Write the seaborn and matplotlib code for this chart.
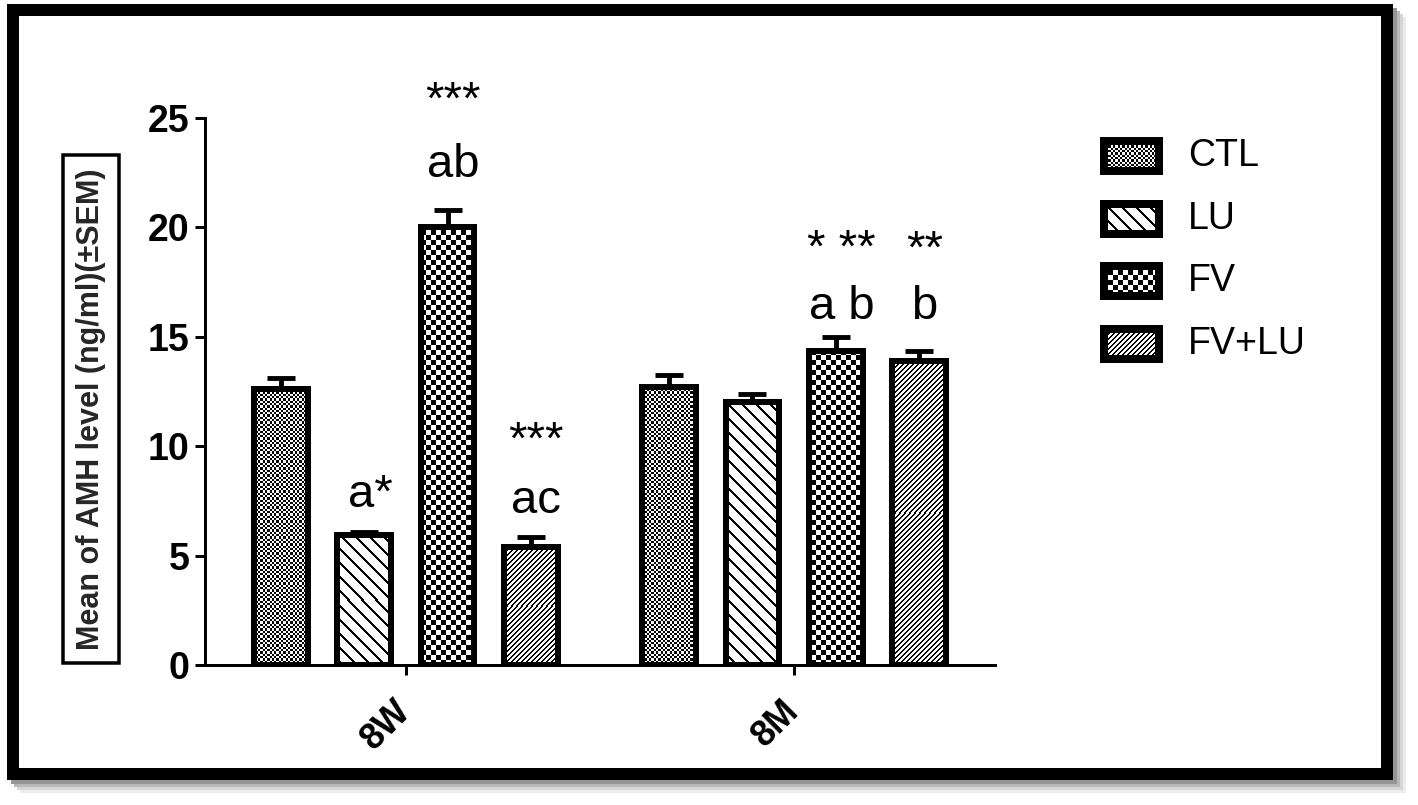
import numpy as np
import pandas as pd
import matplotlib
matplotlib.use("Agg")
import matplotlib.pyplot as plt
from matplotlib.patches import Rectangle
import seaborn as sns

# data
times = ["8W", "8M"]
groups = ["CTL", "LU", "FV", "FV+LU"]
amh_8w = [12.6, 5.95, 20.0, 5.4]
amh_8m = [12.7, 12.0, 14.35, 13.9]
sem_8w = [0.5, 0.15, 0.8, 0.45]
sem_8m = [0.55, 0.4, 0.65, 0.45]
letters_8w = ["", "a*", "ab", "ac"]
letters_8m = ["", "", "a b", "b"]
stars_8w = ["", "", "***", "***"]
stars_8m = ["", "", "* **", "**"]
yticks = [0, 5, 10, 15, 20, 25]

# where the annotations sit (baseline, in data units)
letter_y = {"8W": [0, 7.2, 22.3, 6.95], "8M": [0, 0, 15.8, 15.8]}
star_y = {"8W": [0, 0, 25.2, 9.65], "8M": [0, 0, 18.4, 18.4]}

patterns = ["fine_checker", "back_diag", "coarse_checker", "fwd_diag"]

W, H, DPI = 1418, 805, 100


def make_pattern(kind, w, h, ox=0, oy=0):
    yy, xx = np.mgrid[0:h, 0:w]
    xx = xx + ox
    yy = yy + oy
    if kind == "fine_checker":
        c = 2.3
        black = ((xx // c + yy // c) % 2) == 0
    elif kind == "coarse_checker":
        c = 5.0
        black = ((xx // c + yy // c) % 2) == 0
    elif kind == "back_diag":
        black = ((xx - yy) % 14) < 3
    else:
        black = ((xx + yy) % 5) < 1.7
    return np.where(black, 0.0, 1.0)


sns.set_theme(style="ticks")
plt.rcParams["font.family"] = ["Liberation Sans", "DejaVu Sans"]

df = pd.DataFrame({
    "time": [t for t in times for _ in groups],
    "group": groups * len(times),
    "amh": amh_8w + amh_8m,
})
sems = {"8W": sem_8w, "8M": sem_8m}
letters = {"8W": letters_8w, "8M": letters_8m}
stars = {"8W": stars_8w, "8M": stars_8m}

fig = plt.figure(figsize=(W / DPI, H / DPI), dpi=DPI, facecolor="white")

# overlay in pixel coords for the frame and legend
bg = fig.add_axes([0, 0, 1, 1], zorder=0)
bg.set_xlim(0, W)
bg.set_ylim(H, 0)
bg.axis("off")
for off, col in [(13, "#ececec"), (10, "#d6d6d6"), (7, "#b8b8b8"), (4, "#959595")]:
    bg.add_patch(Rectangle((7 + off, 4 + off), 1386, 776, fc=col, ec="none"))
bg.add_patch(Rectangle((13, 10), 1374, 764, fc="white", ec="black", lw=12 * 72 / DPI))

ax = fig.add_axes([205 / W, 1 - 665 / H, (995 - 205) / W, (665 - 118) / H], zorder=1)
ax.patch.set_alpha(0)

sns.barplot(data=df, x="time", y="amh", hue="group", order=times, hue_order=groups,
            palette=["white"] * 4, width=0.856, gap=0.35, errorbar=None,
            edgecolor="black", linewidth=6 * 72 / DPI, legend=False, ax=ax)

ax.set_xlim(-0.518, 1.518)
ax.set_ylim(0, 25)

bar_conts = list(ax.containers)
for gi, cont in enumerate(bar_conts):
    bars = sorted(cont.patches, key=lambda b: b.get_x())
    for ti, bar in enumerate(bars):
        t = times[ti]
        bar.set_facecolor("none")
        bar.set_zorder(3)
        bx = bar.get_x()
        bw = bar.get_width()
        bh = bar.get_height()
        xc = bx + bw / 2
        # pattern fill
        (x0, y0), (x1, y1) = ax.transData.transform([[bx, 0], [bx + bw, bh]])
        pw, ph = max(int(round(x1 - x0)), 1), max(int(round(y1 - y0)), 1)
        img = make_pattern(patterns[gi], pw, ph, int(x0), int(H - y1))
        ax.imshow(img, extent=(bx, bx + bw, 0, bh), cmap="gray", vmin=0, vmax=1,
                  interpolation="nearest", aspect="auto", zorder=2)
        # SEM (upper only)
        ax.errorbar(xc, bh, yerr=[[0], [sems[t][gi]]], fmt="none", ecolor="black",
                    elinewidth=3.5, capsize=10, capthick=3.5, zorder=1)
        if letters[t][gi]:
            ax.text(xc + 0.015, letter_y[t][gi], letters[t][gi], ha="center",
                    va="baseline", fontsize=34, color="black", clip_on=False)
        if stars[t][gi]:
            ax.text(xc + 0.015, star_y[t][gi], stars[t][gi], ha="center",
                    va="baseline", fontsize=34, color="black", clip_on=False)

ax.set_xlim(-0.518, 1.518)
ax.set_ylim(0, 25)
ax.set_yticks(yticks)
ax.set_yticklabels([str(v) for v in yticks], fontsize=27, fontweight="bold")
ax.set_xticks([0, 1])
ax.set_xticklabels(times, fontsize=26, fontweight="bold", rotation=45,
                   ha="right", va="center", rotation_mode="anchor")
ax.tick_params(axis="both", direction="out", length=10 * 72 / DPI,
               width=3 * 72 / DPI, color="black", labelcolor="black")
ax.tick_params(axis="y", pad=4)
ax.tick_params(axis="x", pad=22)
sns.despine(ax=ax)
for s in ["left", "bottom"]:
    ax.spines[s].set_linewidth(3 * 72 / DPI)
    ax.spines[s].set_color("black")
ax.spines["left"].set_bounds(0, 25)
ax.set_xlabel("")
ax.set_ylabel("Mean of AMH level (ng/ml)(\u00b1SEM)", fontsize=22, fontweight="bold",
              rotation=90, ha="center", va="center",
              bbox=dict(boxstyle="square,pad=0.42", fc="white", ec="black", lw=3.5 * 72 / DPI))
ax.yaxis.set_label_coords(-0.144, 0.468)

# legend drawn by hand on the overlay
for i, (g, kind) in enumerate(zip(groups, patterns)):
    top = 137 + i * 62.7
    x0, x1 = 1100, 1163
    y0, y1 = top, top + 38
    inner = make_pattern(kind, 47, 22)
    bg.imshow(inner, extent=(1108, 1155, y1 - 8, y0 + 8), cmap="gray", vmin=0, vmax=1,
              interpolation="nearest", aspect="auto", zorder=2)
    bg.add_patch(Rectangle((x0 + 4, y0 + 4), 55, 30, fc="none", ec="black",
                           lw=8 * 72 / DPI, zorder=3))
    bg.text(1188, (y0 + y1) / 2, g, fontsize=27, ha="left", va="center", color="black")
bg.set_xlim(0, W)
bg.set_ylim(H, 0)

fig.savefig("out.png", dpi=DPI, facecolor="white")
